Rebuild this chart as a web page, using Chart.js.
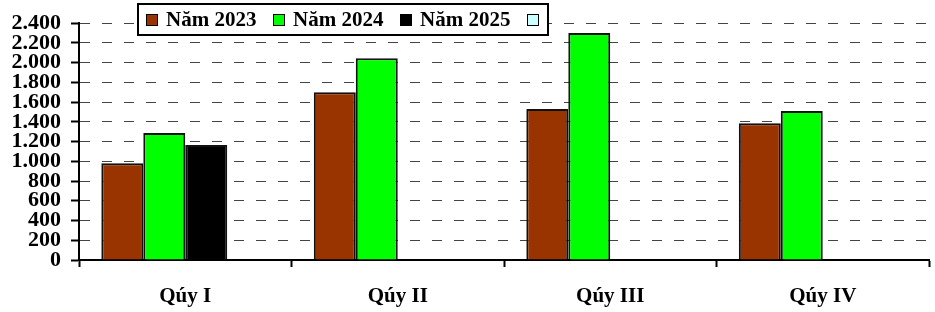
<!DOCTYPE html>
<html lang="vi">
<head>
    <meta charset="utf-8">
    <title>Qúy</title>
    <script src="https://cdn.jsdelivr.net/npm/chart.js"></script>
    <style>
        html, body { margin: 0; padding: 0; background: #fff; }
        #wrap { width: 935px; height: 312px; position: relative; }
    </style>
</head>
<body>
    <div id="wrap"><canvas id="quyChart"></canvas></div>

    <script>
        const categories = ['Qúy I', 'Qúy II', 'Qúy III', 'Qúy IV'];
        const seriesNames = ['Năm 2023', 'Năm 2024', 'Năm 2025', ''];
        const nam2023 = [980, 1700, 1530, 1385];
        const nam2024 = [1288, 2045, 2300, 1510];
        const nam2025 = [1165, null, null, null];
        const series4 = [null, null, null, null];
        const colors = ['#993300', '#00ff00', '#000000', '#ccffff'];

        const FONT = "'Times New Roman', 'Liberation Serif', serif";

        const fmt = (v) => String(v).replace(/\B(?=(\d{3})+(?!\d))/g, '.');

        // legend box drawn over the plot, like the original
        const boxLegend = {
            id: 'boxLegend',
            afterDraw(chart) {
                const ctx = chart.ctx;
                ctx.save();
                ctx.fillStyle = '#fff';
                ctx.fillRect(138, 4, 410, 31);
                ctx.strokeStyle = '#000';
                ctx.lineWidth = 2;
                ctx.strokeRect(138, 4, 410, 31);
                ctx.font = 'bold 21px ' + FONT;
                ctx.textBaseline = 'middle';
                ctx.textAlign = 'left';
                chart.data.datasets.forEach((ds, i) => {
                    const x = 146 + i * 127;
                    ctx.fillStyle = colors[i];
                    ctx.fillRect(x, 14, 12, 12);
                    ctx.lineWidth = 1;
                    ctx.strokeRect(x + 0.5, 14.5, 11, 11);
                    ctx.fillStyle = '#000';
                    ctx.fillText(ds.label, x + 20, 21);
                });
                ctx.restore();
            }
        };

        const ctx = document.getElementById('quyChart').getContext('2d');
        const mkSet = (label, data, color) => ({
            label: label,
            data: data,
            backgroundColor: color,
            borderColor: '#111',
            borderWidth: 2,
            barPercentage: 1,
            categoryPercentage: 0.79
        });

        new Chart(ctx, {
            type: 'bar',
            data: {
                labels: categories,
                datasets: [
                    mkSet(seriesNames[0], nam2023, colors[0]),
                    mkSet(seriesNames[1], nam2024, colors[1]),
                    mkSet(seriesNames[2], nam2025, colors[2]),
                    mkSet(seriesNames[3], series4, colors[3])
                ]
            },
            options: {
                responsive: true,
                maintainAspectRatio: false,
                animation: false,
                layout: { padding: { top: 22, right: 6, left: 0, bottom: 0 } },
                plugins: {
                    legend: { display: false },
                    tooltip: { enabled: false }
                },
                scales: {
                    x: {
                        afterFit: (s) => { s.height = 52; },
                        grid: {
                            offset: true,
                            drawOnChartArea: false,
                            tickLength: 7,
                            tickColor: '#000',
                            tickWidth: 2
                        },
                        border: { color: '#000', width: 2 },
                        ticks: {
                            color: '#000',
                            padding: 17,
                            font: { family: FONT, size: 21, weight: 'bold' }
                        }
                    },
                    y: {
                        min: 0,
                        max: 2400,
                        afterFit: (s) => { s.width = 79; },
                        grid: {
                            color: '#444',
                            lineWidth: 1,
                            tickLength: 8,
                            tickColor: '#000',
                            tickWidth: 2,
                            tickBorderDash: []
                        },
                        border: { color: '#000', width: 2, dash: [10, 12] },
                        ticks: {
                            stepSize: 200,
                            autoSkip: false,
                            color: '#000',
                            padding: 10,
                            font: { family: FONT, size: 22, weight: 'bold' },
                            callback: (v) => fmt(v)
                        }
                    }
                }
            },
            plugins: [boxLegend]
        });
    </script>
</body>
</html>
